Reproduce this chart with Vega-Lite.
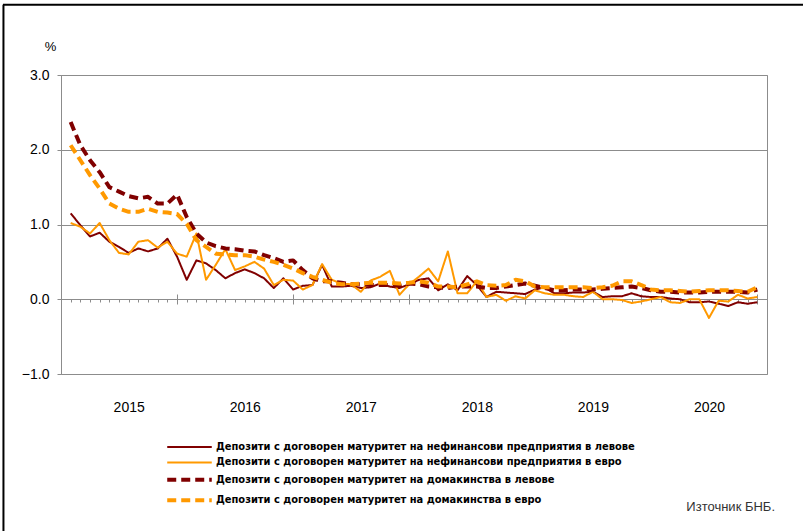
{
  "$schema": "https://vega.github.io/schema/vega-lite/v6.json",
  "width": 706,
  "height": 299,
  "autosize": "none",
  "padding": {"left": 61, "top": 75, "right": 36, "bottom": 157},
  "background": "white",
  "config": {
    "view": {"stroke": "#8c8c8c", "strokeWidth": 1},
    "font": "Liberation Sans",
    "axis": {"labelFont": "Liberation Sans", "titleFont": "Liberation Sans"},
    "legend": {"title": null, "orient": "none", "legendX": 123, "legendY": 366.5, "symbolType": "M-8,0H8", "symbolSize": 31,
      "labelFont": "DejaVu Sans Condensed", "labelFontWeight": "bold", "labelFontSize": 11, "labelColor": "#000000", "labelOffset": 21, "rowPadding": 3.4, "labelLimit": 0, "padding": 0}
  },
  "title": {
    "text": "Източник БНБ.",
    "orient": "bottom",
    "anchor": "end",
    "frame": "group",
    "font": "Liberation Sans",
    "fontSize": 13,
    "fontWeight": "normal",
    "color": "#333333",
    "offset": -46,
    "dx": 8
  },
  "resolve": {"axis": {"x": "independent"}},
  "layer": [
    {
      "data": {"values": [{}]},
      "mark": {"type": "rule", "color": "black", "strokeWidth": 2, "clip": false},
      "encoding": {
        "x": {"datum": -7, "type": "quantitative", "scale": {"domain": [-1, 72], "nice": false, "zero": false},
          "axis": {"orient": "bottom", "values": [11, 23, 35, 47, 59, 71], "offset": -80, "tickSize": 10, "domain": false, "labels": false, "grid": false, "title": null, "tickColor": "#8c8c8c"}},
        "x2": {"datum": 76},
        "y": {"datum": 3.94, "type": "quantitative", "scale": {"domain": [-1, 3], "nice": false, "zero": false}}
      }
    },
    {
      "data": {"values": [{}]},
      "mark": {"type": "rule", "color": "black", "strokeWidth": 2, "clip": false},
      "encoding": {
        "x": {"datum": -6.95, "type": "quantitative", "scale": {"domain": [-1, 72], "nice": false, "zero": false},
          "axis": {"orient": "bottom", "tickCount": 73, "offset": -75, "tickSize": 3, "domain": true, "domainColor": "#8c8c8c", "labels": false, "grid": false, "title": null, "tickColor": "#8c8c8c"}},
        "y": {"datum": 3.94, "type": "quantitative", "scale": {"domain": [-1, 3], "nice": false, "zero": false}},
        "y2": {"datum": -3.3}
      }
    },
    {
      "data": {"values": [
        {"t":0,"s1":1.15,"s2":1.02,"s3":2.37,"s4":2.06},
        {"t":1,"s1":0.99,"s2":0.97,"s3":2.06,"s4":1.86},
        {"t":2,"s1":0.84,"s2":0.88,"s3":1.86,"s4":1.66},
        {"t":3,"s1":0.89,"s2":1.02,"s3":1.70,"s4":1.48},
        {"t":4,"s1":0.77,"s2":0.79,"s3":1.50,"s4":1.28},
        {"t":5,"s1":0.70,"s2":0.62,"s3":1.44,"s4":1.21},
        {"t":6,"s1":0.62,"s2":0.60,"s3":1.38,"s4":1.17},
        {"t":7,"s1":0.68,"s2":0.77,"s3":1.35,"s4":1.17},
        {"t":8,"s1":0.64,"s2":0.79,"s3":1.37,"s4":1.21},
        {"t":9,"s1":0.68,"s2":0.69,"s3":1.28,"s4":1.17},
        {"t":10,"s1":0.81,"s2":0.77,"s3":1.28,"s4":1.16},
        {"t":11,"s1":0.57,"s2":0.61,"s3":1.40,"s4":1.14},
        {"t":12,"s1":0.26,"s2":0.57,"s3":1.10,"s4":1.01},
        {"t":13,"s1":0.52,"s2":0.88,"s3":0.88,"s4":0.79},
        {"t":14,"s1":0.48,"s2":0.26,"s3":0.76,"s4":0.70},
        {"t":15,"s1":0.39,"s2":0.46,"s3":0.71,"s4":0.61},
        {"t":16,"s1":0.28,"s2":0.67,"s3":0.68,"s4":0.60},
        {"t":17,"s1":0.35,"s2":0.39,"s3":0.67,"s4":0.59},
        {"t":18,"s1":0.40,"s2":0.44,"s3":0.65,"s4":0.59},
        {"t":19,"s1":0.35,"s2":0.50,"s3":0.64,"s4":0.57},
        {"t":20,"s1":0.28,"s2":0.41,"s3":0.59,"s4":0.53},
        {"t":21,"s1":0.15,"s2":0.19,"s3":0.55,"s4":0.50},
        {"t":22,"s1":0.28,"s2":0.26,"s3":0.50,"s4":0.46},
        {"t":23,"s1":0.13,"s2":0.25,"s3":0.52,"s4":0.41},
        {"t":24,"s1":0.18,"s2":0.13,"s3":0.39,"s4":0.35},
        {"t":25,"s1":0.19,"s2":0.19,"s3":0.28,"s4":0.30},
        {"t":26,"s1":0.46,"s2":0.47,"s3":0.24,"s4":0.26},
        {"t":27,"s1":0.17,"s2":0.26,"s3":0.24,"s4":0.22},
        {"t":28,"s1":0.17,"s2":0.21,"s3":0.22,"s4":0.20},
        {"t":29,"s1":0.18,"s2":0.20,"s3":0.20,"s4":0.20},
        {"t":30,"s1":0.15,"s2":0.10,"s3":0.20,"s4":0.21},
        {"t":31,"s1":0.16,"s2":0.25,"s3":0.19,"s4":0.22},
        {"t":32,"s1":0.21,"s2":0.30,"s3":0.19,"s4":0.22},
        {"t":33,"s1":0.17,"s2":0.38,"s3":0.19,"s4":0.22},
        {"t":34,"s1":0.15,"s2":0.06,"s3":0.18,"s4":0.21},
        {"t":35,"s1":0.20,"s2":0.20,"s3":0.21,"s4":0.22},
        {"t":36,"s1":0.26,"s2":0.30,"s3":0.20,"s4":0.24},
        {"t":37,"s1":0.28,"s2":0.41,"s3":0.17,"s4":0.22},
        {"t":38,"s1":0.12,"s2":0.24,"s3":0.16,"s4":0.17},
        {"t":39,"s1":0.20,"s2":0.64,"s3":0.15,"s4":0.17},
        {"t":40,"s1":0.12,"s2":0.08,"s3":0.17,"s4":0.16},
        {"t":41,"s1":0.31,"s2":0.08,"s3":0.17,"s4":0.20},
        {"t":42,"s1":0.19,"s2":0.24,"s3":0.17,"s4":0.24},
        {"t":43,"s1":0.03,"s2":0.03,"s3":0.15,"s4":0.19},
        {"t":44,"s1":0.10,"s2":0.06,"s3":0.15,"s4":0.18},
        {"t":45,"s1":0.09,"s2":-0.02,"s3":0.17,"s4":0.19},
        {"t":46,"s1":0.08,"s2":0.04,"s3":0.19,"s4":0.26},
        {"t":47,"s1":0.07,"s2":0.01,"s3":0.21,"s4":0.24},
        {"t":48,"s1":0.13,"s2":0.12,"s3":0.18,"s4":0.17},
        {"t":49,"s1":0.16,"s2":0.08,"s3":0.15,"s4":0.16},
        {"t":50,"s1":0.08,"s2":0.06,"s3":0.12,"s4":0.16},
        {"t":51,"s1":0.08,"s2":0.06,"s3":0.12,"s4":0.16},
        {"t":52,"s1":0.09,"s2":0.04,"s3":0.13,"s4":0.16},
        {"t":53,"s1":0.09,"s2":0.03,"s3":0.13,"s4":0.16},
        {"t":54,"s1":0.10,"s2":0.10,"s3":0.13,"s4":0.15},
        {"t":55,"s1":0.03,"s2":0.00,"s3":0.14,"s4":0.16},
        {"t":56,"s1":0.04,"s2":0.00,"s3":0.15,"s4":0.18},
        {"t":57,"s1":0.04,"s2":-0.01,"s3":0.16,"s4":0.24},
        {"t":58,"s1":0.08,"s2":-0.05,"s3":0.17,"s4":0.24},
        {"t":59,"s1":0.04,"s2":-0.03,"s3":0.15,"s4":0.19},
        {"t":60,"s1":0.03,"s2":0.00,"s3":0.12,"s4":0.13},
        {"t":61,"s1":0.03,"s2":0.03,"s3":0.10,"s4":0.12},
        {"t":62,"s1":0.01,"s2":-0.04,"s3":0.10,"s4":0.12},
        {"t":63,"s1":0.00,"s2":-0.05,"s3":0.09,"s4":0.11},
        {"t":64,"s1":-0.04,"s2":0.00,"s3":0.09,"s4":0.10},
        {"t":65,"s1":-0.04,"s2":0.00,"s3":0.09,"s4":0.11},
        {"t":66,"s1":-0.03,"s2":-0.25,"s3":0.10,"s4":0.12},
        {"t":67,"s1":-0.06,"s2":-0.02,"s3":0.10,"s4":0.12},
        {"t":68,"s1":-0.09,"s2":-0.03,"s3":0.10,"s4":0.12},
        {"t":69,"s1":-0.04,"s2":0.06,"s3":0.10,"s4":0.11},
        {"t":70,"s1":-0.06,"s2":0.01,"s3":0.09,"s4":0.10},
        {"t":71,"s1":-0.04,"s2":0.03,"s3":0.13,"s4":0.16}
      ]},
      "transform": [{"fold": ["s1", "s2", "s3", "s4"], "as": ["series", "v"]}],
      "mark": {"type": "line", "strokeJoin": "round", "strokeCap": "butt"},
      "encoding": {
        "x": {"field": "t", "type": "quantitative", "scale": {"domain": [-1, 72], "nice": false, "zero": false},
          "axis": {"orient": "bottom", "values": [6, 18, 30, 42, 54, 66], "labelExpr": "datum.value == 6 ? '2015' : datum.value == 18 ? '2016' : datum.value == 30 ? '2017' : datum.value == 42 ? '2018' : datum.value == 54 ? '2019' : '2020'",
            "ticks": false, "domain": false, "grid": false, "title": null, "labelPadding": 26, "labelFontSize": 14, "labelColor": "#000000", "labelFont": "Liberation Sans"}},
        "y": {"field": "v", "type": "quantitative", "scale": {"domain": [-1, 3], "nice": false, "zero": false},
          "axis": {"values": [-1, 0, 1, 2, 3], "format": ".1f", "grid": true, "gridColor": "#8c8c8c", "domainColor": "#8c8c8c", "tickColor": "#8c8c8c", "tickSize": 4,
            "labelFontSize": 14, "labelColor": "#000000", "labelPadding": 8, "title": "%", "titleAngle": 0, "titleX": -11, "titleY": -29, "titleAlign": "center", "titleBaseline": "middle", "titleFontWeight": "normal", "titleFontSize": 13, "titleColor": "#000000"}},
        "color": {"field": "series", "type": "nominal",
          "scale": {"domain": ["s1", "s2", "s3", "s4"], "range": ["#800000", "#FF9900", "#800000", "#FF9900"]},
          "legend": {"labelExpr": "datum.label == 's1' ? 'Депозити с договорен матуритет на нефинансови предприятия в левове' : datum.label == 's2' ? 'Депозити с договорен матуритет на нефинансови предприятия в евро' : datum.label == 's3' ? 'Депозити с договорен матуритет на домакинства в левове' : 'Депозити с договорен матуритет на домакинства в евро'"}},
        "strokeDash": {"field": "series", "type": "nominal",
          "scale": {"domain": ["s1", "s2", "s3", "s4"], "range": [[1, 0], [1, 0], [9, 5], [9, 5]]},
          "legend": {"labelExpr": "datum.label == 's1' ? 'Депозити с договорен матуритет на нефинансови предприятия в левове' : datum.label == 's2' ? 'Депозити с договорен матуритет на нефинансови предприятия в евро' : datum.label == 's3' ? 'Депозити с договорен матуритет на домакинства в левове' : 'Депозити с договорен матуритет на домакинства в евро'"}},
        "strokeWidth": {"field": "series", "type": "nominal",
          "scale": {"type": "ordinal", "domain": ["s1", "s2", "s3", "s4"], "range": [2, 2, 4, 4]},
          "legend": {"labelExpr": "datum.label == 's1' ? 'Депозити с договорен матуритет на нефинансови предприятия в левове' : datum.label == 's2' ? 'Депозити с договорен матуритет на нефинансови предприятия в евро' : datum.label == 's3' ? 'Депозити с договорен матуритет на домакинства в левове' : 'Депозити с договорен матуритет на домакинства в евро'"}}
      }
    }
  ]
}
